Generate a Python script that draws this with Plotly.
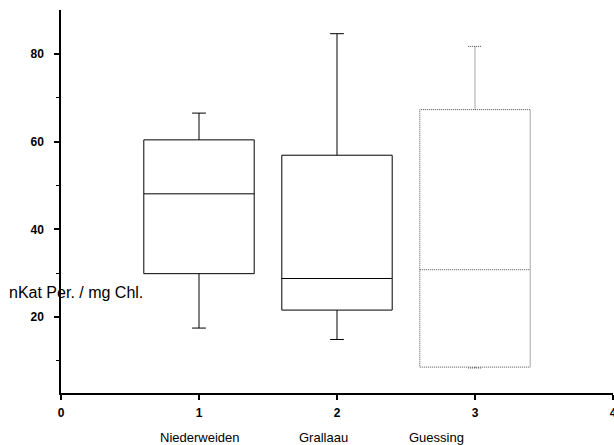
import plotly.graph_objects as go

# ---- data ----
categories = ["Niederweiden", "Grallaau", "Guessing"]
positions = [1, 2, 3]
lower_whisker = [17.5, 14.9, 8.4]
q1_values = [29.9, 21.6, 8.6]
median_values = [48.1, 28.8, 30.8]
q3_values = [60.4, 56.9, 67.3]
upper_whisker = [66.5, 84.6, 81.7]
y_ticks = [20, 40, 60, 80]
x_ticks = [0, 1, 2, 3, 4]

# ---- style ----
FONT = "Liberation Sans, Arial, sans-serif"
box_half = 0.4
cap_half = 0.05
label_offsets = [0.01, -0.1, -0.28]

fig = go.Figure()

# solid boxes (first two)
for i in range(2):
    fig.add_trace(go.Box(
        x=[positions[i]],
        q1=[q1_values[i]], median=[median_values[i]], q3=[q3_values[i]],
        lowerfence=[lower_whisker[i]], upperfence=[upper_whisker[i]],
        width=2 * box_half, whiskerwidth=2 * cap_half / (2 * box_half),
        line=dict(color="black", width=1),
        fillcolor="rgba(0,0,0,0)",
        boxpoints=False, showlegend=False, hoverinfo="skip",
    ))

# dotted box (third) built from the same data arrays
i = 2
p = positions[i]
xs = [p - box_half, p + box_half, p + box_half, p - box_half, p - box_half, None,
      p - box_half, p + box_half, None,
      p, p, None,
      p - cap_half, p + cap_half, None,
      p, p, None,
      p - cap_half, p + cap_half]
ys = [q1_values[i], q1_values[i], q3_values[i], q3_values[i], q1_values[i], None,
      median_values[i], median_values[i], None,
      q3_values[i], upper_whisker[i], None,
      upper_whisker[i], upper_whisker[i], None,
      q1_values[i], lower_whisker[i], None,
      lower_whisker[i], lower_whisker[i]]
fig.add_trace(go.Scatter(
    x=xs, y=ys, mode="lines",
    line=dict(color="rgb(80,80,80)", width=1, dash="1px,1px"),
    showlegend=False, hoverinfo="skip",
))

# category labels under the axis
for cat, p, off in zip(categories, positions, label_offsets):
    fig.add_annotation(
        x=p + off, xref="x", y=0, yref="paper", yshift=-44,
        text=cat, showarrow=False, xanchor="center", yanchor="middle",
        font=dict(family=FONT, size=13, color="black"),
    )

# y-axis title, horizontal and overlapping the axis
fig.add_annotation(
    x=0, xref="paper", xshift=-54, y=25.6, yref="y",
    text="nKat Per. / mg Chl.", showarrow=False, xanchor="left", yanchor="middle",
    font=dict(family=FONT, size=16, color="black"),
)

fig.update_layout(
    width=614, height=445,
    margin=dict(l=61, r=1, t=10, b=52),
    paper_bgcolor="white", plot_bgcolor="white",
    font=dict(family=FONT, color="black"),
    showlegend=False,
    xaxis=dict(
        range=[0, 4], tickvals=x_ticks, ticktext=[str(v) for v in x_ticks],
        showgrid=False, zeroline=False, automargin=False,
        showline=True, linecolor="black", linewidth=2,
        ticks="outside", ticklen=5, tickwidth=1.5, tickcolor="black",
        tickfont=dict(family=FONT, size=12, color="black", weight="bold"),
        ticklabelstandoff=3, ticklabeloverflow="allow",
    ),
    yaxis=dict(
        range=[2.7, 90], tickvals=y_ticks,
        showgrid=False, zeroline=False, automargin=False,
        showline=True, linecolor="black", linewidth=1.5,
        ticks="outside", ticklen=5, tickwidth=1.5, tickcolor="black",
        tickfont=dict(family=FONT, size=12, color="black", weight="bold"),
        ticklabelstandoff=8,
        minor=dict(tickvals=[10, 30, 50, 70], ticks="outside", ticklen=3,
                   tickwidth=1, tickcolor="black"),
    ),
)

fig.write_html("out.html")
